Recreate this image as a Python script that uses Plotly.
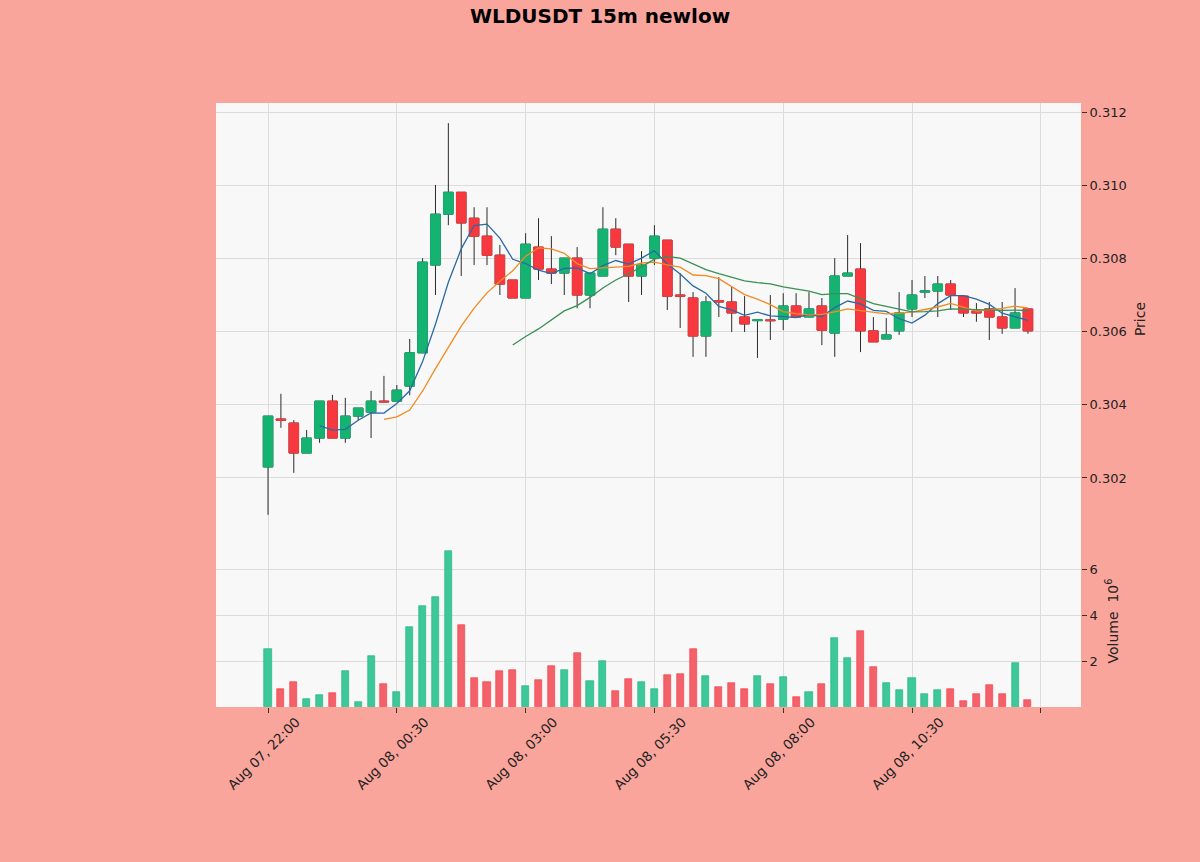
import pandas as pd
import plotly.graph_objects as go
from plotly.subplots import make_subplots

# ---------------- data ----------------
opens = [0.30230, 0.30361, 0.30350, 0.30268, 0.30309, 0.30410, 0.30309, 0.30369, 0.30380, 0.30410,
         0.30410, 0.30451, 0.30542, 0.30782, 0.30921, 0.30981, 0.30910, 0.30861, 0.30809, 0.30741,
         0.30692, 0.30831, 0.30771, 0.30760, 0.30801, 0.30700, 0.30752, 0.30880, 0.30839, 0.30752,
         0.30801, 0.30850, 0.30700, 0.30692, 0.30588, 0.30685, 0.30681, 0.30640, 0.30630, 0.30632,
         0.30634, 0.30670, 0.30640, 0.30670, 0.30596, 0.30752, 0.30771, 0.30602, 0.30580, 0.30602,
         0.30662, 0.30708, 0.30711, 0.30730, 0.30697, 0.30656, 0.30662, 0.30640, 0.30610, 0.30662]
highs = [0.30369, 0.30430, 0.30358, 0.30331, 0.30410, 0.30427, 0.30419, 0.30391, 0.30438, 0.30479,
         0.30454, 0.30580, 0.30801, 0.31001, 0.31170, 0.30981, 0.30940, 0.30940, 0.30837, 0.30741,
         0.30869, 0.30910, 0.30861, 0.30801, 0.30831, 0.30760, 0.30940, 0.30910, 0.30839, 0.30820,
         0.30891, 0.30850, 0.30760, 0.30708, 0.30697, 0.30749, 0.30722, 0.30697, 0.30632, 0.30700,
         0.30705, 0.30705, 0.30708, 0.30692, 0.30801, 0.30864, 0.30842, 0.30640, 0.30637, 0.30708,
         0.30741, 0.30752, 0.30752, 0.30741, 0.30697, 0.30678, 0.30681, 0.30681, 0.30719, 0.30662]
lows = [0.30099, 0.30337, 0.30214, 0.30268, 0.30296, 0.30309, 0.30296, 0.30358, 0.30309, 0.30408,
        0.30410, 0.30426, 0.30542, 0.30700, 0.30891, 0.30752, 0.30782, 0.30782, 0.30700, 0.30692,
        0.30692, 0.30741, 0.30730, 0.30700, 0.30664, 0.30664, 0.30752, 0.30809, 0.30681, 0.30700,
        0.30782, 0.30659, 0.30610, 0.30531, 0.30531, 0.30640, 0.30599, 0.30599, 0.30528, 0.30577,
        0.30604, 0.30640, 0.30640, 0.30563, 0.30531, 0.30752, 0.30544, 0.30572, 0.30580, 0.30591,
        0.30640, 0.30692, 0.30640, 0.30659, 0.30640, 0.30627, 0.30577, 0.30594, 0.30610, 0.30594]
closes = [0.30369, 0.30358, 0.30268, 0.30309, 0.30410, 0.30309, 0.30369, 0.30391, 0.30410, 0.30408,
          0.30440, 0.30542, 0.30790, 0.30921, 0.30981, 0.30897, 0.30861, 0.30809, 0.30730, 0.30692,
          0.30839, 0.30771, 0.30760, 0.30801, 0.30700, 0.30760, 0.30880, 0.30831, 0.30752, 0.30782,
          0.30861, 0.30697, 0.30697, 0.30588, 0.30681, 0.30681, 0.30651, 0.30621, 0.30632, 0.30630,
          0.30670, 0.30640, 0.30662, 0.30604, 0.30752, 0.30760, 0.30602, 0.30572, 0.30591, 0.30651,
          0.30700, 0.30711, 0.30730, 0.30700, 0.30651, 0.30651, 0.30640, 0.30610, 0.30651, 0.30602]
volumes_m = [2.52, 0.78, 1.09, 0.35, 0.52, 0.60, 1.57, 0.22, 2.20, 1.00,
             0.65, 3.48, 4.40, 4.78, 6.78, 3.57, 1.26, 1.09, 1.57, 1.60,
             0.91, 1.17, 1.78, 1.60, 2.35, 1.13, 2.00, 0.70, 1.22, 1.09,
             0.78, 1.39, 1.43, 2.52, 1.35, 0.87, 1.04, 0.78, 1.35, 1.00,
             1.30, 0.43, 0.65, 1.00, 3.00, 2.13, 3.30, 1.74, 1.04, 0.74,
             1.26, 0.57, 0.74, 0.78, 0.26, 0.57, 0.96, 0.57, 1.91, 0.30]
tick_positions = [0, 10, 20, 30, 40, 50, 60]
tick_labels = ["Aug 07, 22:00", "Aug 08, 00:30", "Aug 08, 03:00", "Aug 08, 05:30",
               "Aug 08, 08:00", "Aug 08, 10:30", " "]
price_ticks = [0.302, 0.304, 0.306, 0.308, 0.310, 0.312]
volume_ticks = [2, 4, 6]
mav_periods = [5, 10, 20]

# ---------------- styles ----------------
UP, DOWN = "#14b371", "#f7383e"
VUP, VDOWN = "#3fc79c", "#f3616b"
WICK = "#2b2b2b"
MAV_COLORS = ["#2a6aa6", "#f28b22", "#3a8f55"]
BG = "#faa59c"
PLOT_BG = "#f8f8f8"
GRID = "#dcdcdc"
FONT = "DejaVu Sans"

idx = list(range(len(closes)))
df = pd.DataFrame({"o": opens, "h": highs, "l": lows, "c": closes, "v": volumes_m}, index=idx)
body_hi = df[["o", "c"]].max(axis=1)
body_lo = df[["o", "c"]].min(axis=1)
up = df["c"] >= df["o"]

fig = make_subplots(rows=2, cols=1, shared_xaxes=True, vertical_spacing=0,
                    row_heights=[432, 172])

# wicks layer
fig.add_trace(go.Candlestick(
    x=idx, open=df["o"], high=df["h"], low=df["l"], close=df["c"],
    increasing=dict(line=dict(color=WICK, width=1), fillcolor=UP),
    decreasing=dict(line=dict(color=WICK, width=1), fillcolor=DOWN),
    whiskerwidth=0, showlegend=False, hoverinfo="skip"), row=1, col=1)
# bodies layer
fig.add_trace(go.Candlestick(
    x=idx, open=df["o"], high=body_hi, low=body_lo, close=df["c"],
    increasing=dict(line=dict(color=UP, width=1), fillcolor=UP),
    decreasing=dict(line=dict(color=DOWN, width=1), fillcolor=DOWN),
    whiskerwidth=0, showlegend=False), row=1, col=1)

for p, col in zip(mav_periods, MAV_COLORS):
    ma = df["c"].rolling(p).mean()
    fig.add_trace(go.Scatter(x=idx, y=ma, mode="lines", line=dict(color=col, width=1.3),
                             showlegend=False, hoverinfo="skip"), row=1, col=1)

fig.add_trace(go.Bar(
    x=idx, y=df["v"], width=0.55,
    marker=dict(color=[VUP if u else VDOWN for u in up],
                line=dict(color=[UP if u else DOWN for u in up], width=0.6)),
    showlegend=False), row=2, col=1)

axis_font = dict(family=FONT, size=13, color="#222222")
fig.update_xaxes(range=[-4.04, 63.12], tickmode="array", tickvals=tick_positions,
                 ticktext=tick_labels, showgrid=True, gridcolor=GRID, gridwidth=1.3,
                 zeroline=False, showline=False, rangeslider_visible=False)
fig.update_xaxes(showticklabels=False, ticks="", row=1, col=1)
fig.update_xaxes(showticklabels=True, ticks="outside", ticklen=5, tickcolor="#333333",
                 tickangle=-45, tickfont=dict(family=FONT, size=13.5, color="#222222"),
                 ticklabelshift=28, ticklabelstandoff=-4,
                 row=2, col=1)

fig.update_yaxes(side="right", showgrid=True, gridcolor=GRID, gridwidth=1.3, zeroline=False,
                 ticks="outside", ticklen=5, tickcolor="#333333", tickfont=axis_font,
                 showline=False)
fig.update_yaxes(range=[0.30044, 0.31225], tickvals=price_ticks,
                 ticktext=[f"{t:.3f}" for t in price_ticks],
                 title=dict(text="Price", standoff=9,
                            font=dict(family=FONT, size=14, color="#222222")),
                 row=1, col=1)
fig.update_yaxes(range=[0, 7.48], tickvals=volume_ticks, ticktext=[str(t) for t in volume_ticks],
                 title=dict(text="Volume  10<sup>6</sup>", standoff=11,
                            font=dict(family=FONT, size=14, color="#222222")),
                 row=2, col=1)

fig.update_layout(
    width=1200, height=862,
    paper_bgcolor=BG, plot_bgcolor=PLOT_BG,
    margin=dict(l=216, r=119, t=103, b=155),
    title=dict(text="<b>WLDUSDT 15m newlow</b>", x=0.5, xanchor="center",
               y=1 - 16 / 862, yref="container", yanchor="middle",
               font=dict(family=FONT, size=20, color="#000000")),
    boxgap=0.26, boxgroupgap=0, boxmode="overlay",
    bargap=0, showlegend=False,
    font=dict(family=FONT),
)

fig.write_html("out.html", config={"displayModeBar": False},
               post_script="document.body.style.margin='0';document.body.style.overflow='hidden';")
